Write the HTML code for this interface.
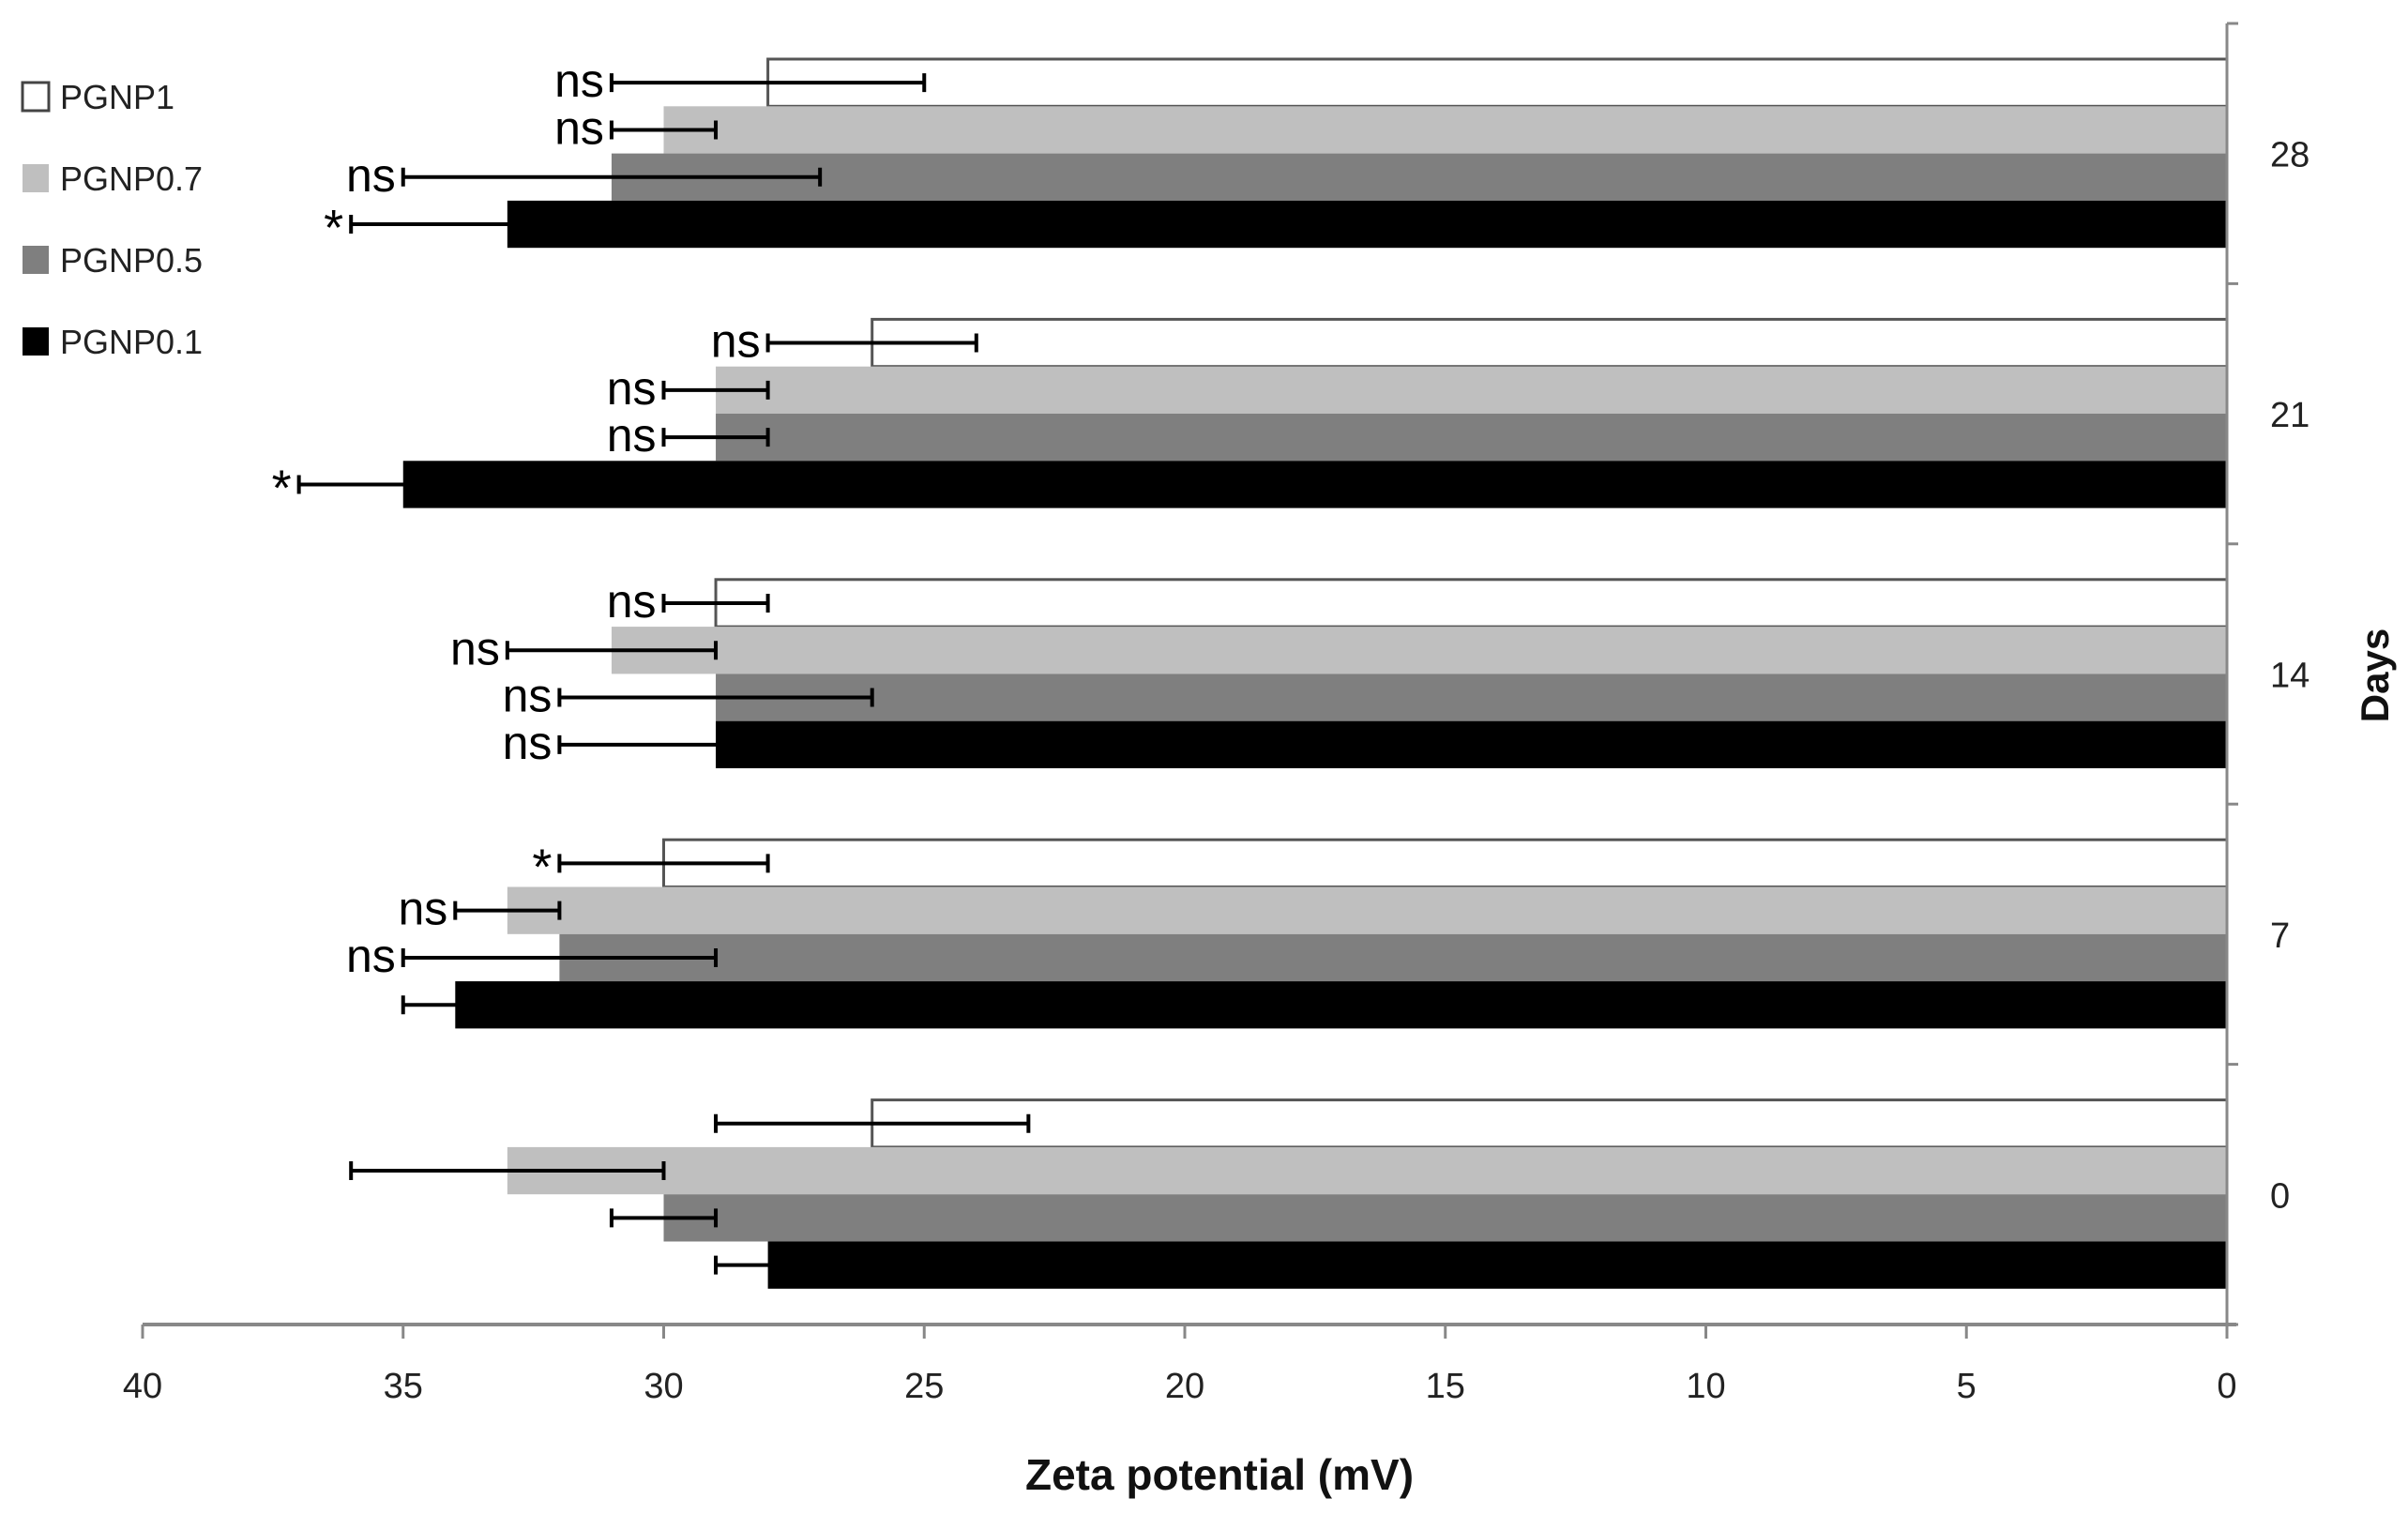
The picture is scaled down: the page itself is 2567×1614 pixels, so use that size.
<!DOCTYPE html>
<html><head><meta charset="utf-8"><style>
html,body{margin:0;padding:0;background:#fff;}
svg{display:block;font-family:"Liberation Sans",sans-serif;}
</style></head><body>
<svg id="chart" width="2567" height="1614" viewBox="0 0 2567 1614" xmlns="http://www.w3.org/2000/svg">
<g id="plot"></g>
</svg>
<script>
const days = ['0','7','14','21','28'];
const seriesNames = ['PGNP1','PGNP0.7','PGNP0.5','PGNP0.1'];
const valsP1 = [26,30,29,26,28];
const valsP07 = [33,33,31,29,30];
const valsP05 = [30,32,29,29,31];
const valsP01 = [28,34,29,35,33];
const errP1 = [3,2,1,2,3];
const errP07 = [3,1,2,1,1];
const errP05 = [1,3,3,1,4];
const errP01 = [1,1,3,2,3];
const sigP1 = ['','*','ns','ns','ns'];
const sigP07 = ['','ns','ns','ns','ns'];
const sigP05 = ['','ns','ns','ns','ns'];
const sigP01 = ['','','ns','*','*'];
const xTicks = [40,35,30,25,20,15,10,5,0];

const NS='http://www.w3.org/2000/svg';
const g=document.getElementById('plot');
const x0=2374, x40=152, yTop=25, yBot=1412;
const xs=v=>x0-(v/40)*(x0-x40);
const band=(yBot-yTop)/days.length;
const barH=50.3, off=38;
const fills=['#ffffff','#bfbfbf','#7f7f7f','#000000'];
const allVals=[valsP1,valsP07,valsP05,valsP01];
const allErr=[errP1,errP07,errP05,errP01];
const allSig=[sigP1,sigP07,sigP05,sigP01];
function mk(t,a,txt){const e=document.createElementNS(NS,t);for(const k in a)e.setAttribute(k,a[k]);if(txt!==undefined)e.textContent=txt;g.appendChild(e);return e;}

days.forEach((d,di)=>{
  const bandTop=yBot-(di+1)*band;
  for(let s=0;s<4;s++){
    const v=allVals[s][di], er=allErr[s][di];
    const y=bandTop+off+s*barH;
    const r=mk('rect',{x:xs(v),y:y,width:x0-xs(v),height:barH,fill:fills[s],stroke:s===0?'#555':'none','stroke-width':s===0?3:0});
    
    
    const cy=y+barH/2, xl=xs(v+er), xr=xs(v-er);
    const eb=mk('path',{d:`M${xl},${cy}H${xr}M${xl},${cy-10}V${cy+10}M${xr},${cy-10}V${cy+10}`,stroke:'#000','stroke-width':4,fill:'none'});
    
    
    const sg=allSig[s][di];
    if(sg){
      const t=mk('text',{x:xl-8,y:cy+(sg==='*'?22:15),'text-anchor':'end','font-size':sg==='*'?54:50,fill:'#000'},sg);
      
      
    }
  }
  const dl=mk('text',{x:2420,y:bandTop+band/2+14,'font-size':38,fill:'#222'},d);
  
  
});
for(let i=0;i<=days.length;i++){
  const y=yTop+i*band;
  const t=mk('line',{x1:x0,x2:x0+12,y1:y,y2:y,stroke:'#888','stroke-width':3});
  
  
}
const ya=mk('line',{x1:x0,x2:x0,y1:yTop,y2:yBot,stroke:'#888','stroke-width':3});


const xa=mk('line',{x1:x40,x2:x0+10,y1:yBot,y2:yBot,stroke:'#888','stroke-width':4});


xTicks.forEach(v=>{
  const tk=mk('line',{x1:xs(v),x2:xs(v),y1:yBot,y2:yBot+15,stroke:'#888','stroke-width':3});
  
  
  const tl=mk('text',{x:xs(v),y:1490,'text-anchor':'middle','font-size':38,fill:'#222'},String(v));
  
  
});
const xt=mk('text',{x:1300,y:1588,'text-anchor':'middle','font-size':46,'font-weight':'bold',fill:'#111'},'Zeta potential (mV)');


const yt=mk('text',{x:0,y:0,'text-anchor':'middle','font-size':42,'font-weight':'bold',fill:'#111',transform:'translate(2546,720) rotate(-90)'},'Days');


const legY=[103,190,277,364];
seriesNames.forEach((n,i)=>{
  const sq=mk('rect',{x:24,y:legY[i]-15,width:28,height:30,fill:fills[i],stroke:i===0?'#444':'none','stroke-width':i===0?3:0});
  
  
  const lt=mk('text',{x:64,y:legY[i]+13,'font-size':36,fill:'#222'},n);
  
  
});
</script>
</body></html>
